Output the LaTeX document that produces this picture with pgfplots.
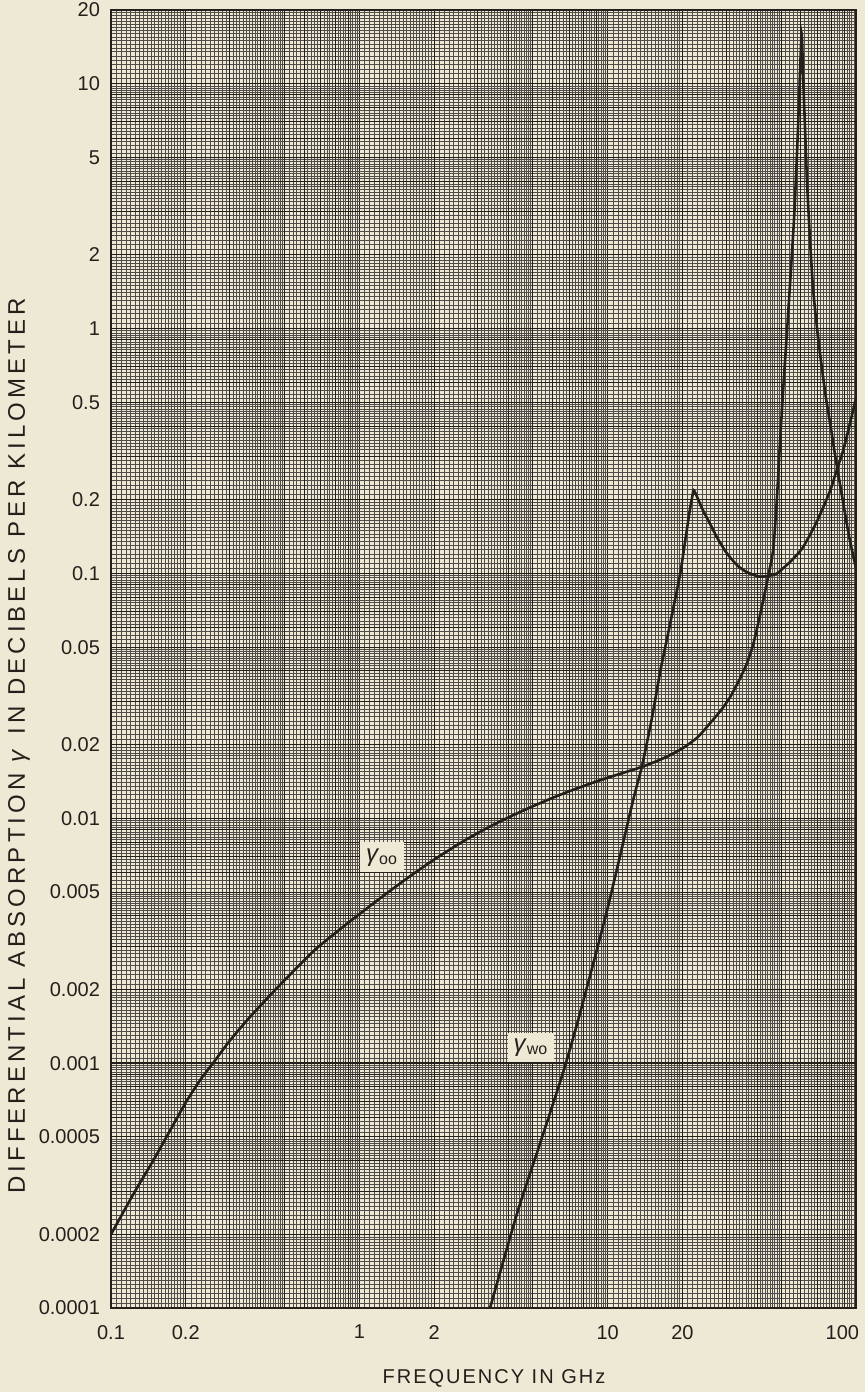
\documentclass[border=0pt]{standalone}
\usepackage{fontspec}
\setmainfont{Liberation Sans}
\newfontfamily\spaced[LetterSpace=10]{Liberation Sans}
\newfontfamily\wide[LetterSpace=17]{Liberation Sans}
\usepackage{pgfplots}
\pgfplotsset{compat=1.18}
\usetikzlibrary{backgrounds,calc}
\definecolor{paper}{RGB}{238,233,212}
\definecolor{ink}{RGB}{35,32,28}

\def\mants{1.05,1.1,1.15,1.2,1.25,1.3,1.35,1.4,1.45,1.5,1.55,1.6,1.65,1.7,1.75,1.8,1.85,1.9,1.95,2.1,2.2,2.3,2.4,2.5,2.6,2.7,2.8,2.9,3.1,3.2,3.3,3.4,3.5,3.6,3.7,3.8,3.9,4.1,4.2,4.3,4.4,4.5,4.6,4.7,4.8,4.9,5.2,5.4,5.6,5.8,6.2,6.4,6.6,6.8,7.2,7.4,7.6,7.8,8.2,8.4,8.6,8.8,9.2,9.4,9.6,9.8}
\def\xfine{0.1}
\foreach \e in {-1,0,1}{\foreach \m in \mants {\xdef\xfine{\xfine,\m e\e}}}
\def\yfine{0.0001}
\foreach \e in {-4,-3,-2,-1,0,1}{\foreach \m in \mants {\xdef\yfine{\yfine,\m e\e}}}

\pgfplotstableread{
f g
0.1 2.0e-4
0.125 3.0e-4
0.15 4.1e-4
0.2 6.9e-4
0.23 8.6e-4
0.2575 1.0e-3
0.3 1.23e-3
0.36 1.53e-3
0.46 2.0e-3
0.65 2.85e-3
0.8 3.4e-3
1.0 4.06e-3
1.3 4.97e-3
1.6 5.8e-3
2.0 6.78e-3
2.6 8.02e-3
3.3 9.17e-3
4.0 1.01e-2
5.0 1.12e-2
6.6 1.26e-2
9.3 1.43e-2
13.7 1.62e-2
17 1.77e-2
20 1.93e-2
23 2.14e-2
25.8 2.44e-2
28.5 2.75e-2
31.1 3.12e-2
34 3.7e-2
36.4 4.3e-2
38.5 5.1e-2
40 6.0e-2
42 7.5e-2
43.9 9.3e-2
46.4 0.125
48 0.2
49.4 0.34
51 0.58
53 1.05
55 1.9
56.5 3.0
58 5.5
59.2 9.5
60.4 16
61.2 11
62.2 7
63.5 4
65 2.5
67 1.5
69.7 1.0
72.5 0.72
75.5 0.53
79 0.4
83 0.29
88 0.205
94 0.14
100 0.105
}\oo

\pgfplotstableread{
f g
3.36 1.0e-4
4.32 2.44e-4
5.35 4.72e-4
6.6 9.1e-4
7.74 1.6e-3
9.94 4.2e-3
12.65 1.18e-2
13.7 1.61e-2
15 2.5e-2
16.3 4.0e-2
18 6.5e-2
19.6 0.1
20.5 0.135
21.4 0.18
22.0 0.21
22.3 0.218
24.2 0.181
25.8 0.16
27.6 0.14
30 0.122
33.2 0.108
36.5 0.101
41 0.097
45 0.098
48.1 0.1
55 0.113
61.2 0.128
70 0.165
78.7 0.218
84 0.268
88.8 0.318
94 0.4
100 0.52
}\wo

\begin{document}
\begin{tikzpicture}
\begin{axis}[
  name=a,
  xmode=log, ymode=log,
  scale only axis,
  width=372.5pt, height=649pt,
  xmin=0.1, xmax=100, ymin=0.0001, ymax=20,
  axis line style={ink, line width=1.1pt},
  major tick length=0pt, minor tick length=0pt,
  xtick={0.1,1,10,100},
  xticklabels={0.1,1,10,\makebox[3pt][r]{100}},
  ytick={0.0001,0.001,0.01,0.1,1,10},
  yticklabels={0.0001,0.001,0.01,0.1,1,10},
  extra x ticks={0.2,0.3,0.4,0.5,0.6,0.7,0.8,0.9,2,3,4,5,6,7,8,9,20,30,40,50,60,70,80,90},
  extra x tick labels={0.2,{},{},{},{},{},{},{},2,{},{},{},{},{},{},{},20,{},{},{},{},{},{},{}},
  extra y ticks={2e-4,3e-4,4e-4,5e-4,6e-4,7e-4,8e-4,9e-4,2e-3,3e-3,4e-3,5e-3,6e-3,7e-3,8e-3,9e-3,0.02,0.03,0.04,0.05,0.06,0.07,0.08,0.09,0.2,0.3,0.4,0.5,0.6,0.7,0.8,0.9,2,3,4,5,6,7,8,9,20},
  extra y tick labels={0.0002,{},{},0.0005,{},{},{},{},0.002,{},{},0.005,{},{},{},{},0.02,{},{},0.05,{},{},{},{},0.2,{},{},0.5,{},{},{},{},2,{},{},5,{},{},{},{},20},
  extra x tick style={grid=major, major grid style={ink, line width=0.45pt}},
  extra y tick style={grid=major, major grid style={ink, line width=0.45pt}},
  minor xtick/.expanded={\xfine},
  minor ytick/.expanded={\yfine},
  grid=both,
  major grid style={ink, line width=0.75pt},
  minor grid style={ink!80, line width=0.3pt},
  tick label style={font=\fontsize{10}{12}\selectfont, text=ink},
  xticklabel style={yshift=-5pt},
  yticklabel style={xshift=-2pt},
  xlabel={\spaced\fontsize{10}{12}\selectfont FREQUENCY IN GHz},
  xlabel style={at={(rel axis cs:0.514,0)}, anchor=center, yshift=-35pt, text=ink},
  ylabel={\wide\fontsize{12}{14}\selectfont DIFFERENTIAL ABSORPTION \textit{γ} IN DECIBELS PER KILOMETER},
  ylabel style={at={(rel axis cs:0,0.433)}, anchor=center, yshift=46pt, text=ink},
]
\addplot[ink, line width=1.3pt, smooth, tension=0.4] table[x=f, y=g] {\oo};
\addplot[ink, line width=1.3pt, smooth, tension=0.4] table[x=f, y=g] {\wo};
\node[fill=paper, inner sep=3pt, text=ink] at (axis cs:1.234,0.00693) {\fontsize{12}{13}\selectfont\textit{γ}\textsubscript{oo}};
\node[fill=paper, inner sep=3pt, text=ink] at (axis cs:4.91,0.00116) {\fontsize{12}{13}\selectfont\textit{γ}\textsubscript{wo}};
\end{axis}
\begin{scope}[on background layer]
\fill[paper] ($(a.south west)+(-55.5pt,-42pt)$) rectangle ($(a.north east)+(4.5pt,5pt)$);
\end{scope}
\pgfresetboundingbox
\path[use as bounding box] ($(a.south west)+(-55.5pt,-42pt)$) rectangle ($(a.north east)+(4.5pt,5pt)$);
\end{tikzpicture}
\end{document}
